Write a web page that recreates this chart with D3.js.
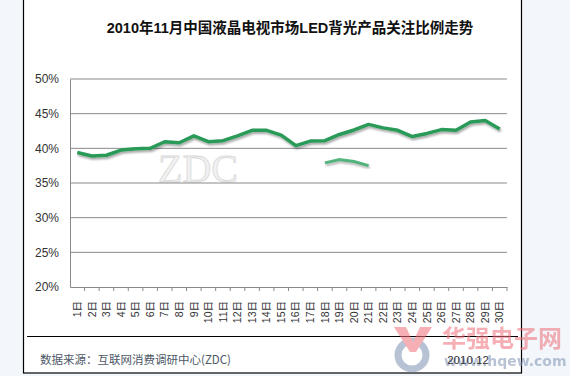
<!DOCTYPE html>
<html>
<head>
<meta charset="utf-8">
<script src="https://cdn.jsdelivr.net/npm/d3@7"></script>
<style>
  html, body { margin: 0; padding: 0; background: #f3f7fc; }
  svg { display: block; }
</style>
</head>
<body>
<div id="chart"></div>
<script>
// daily share of LED backlight attention, Nov 2010 (%)
var days = ["1日","2日","3日","4日","5日","6日","7日","8日","9日","10日",
  "11日","12日","13日","14日","15日","16日","17日","18日","19日","20日",
  "21日","22日","23日","24日","25日","26日","27日","28日","29日","30日"];
var ledShare = [39.4, 38.9, 39.0, 39.75, 39.95, 40.0, 40.95, 40.8, 41.8, 40.95,
  41.1, 41.8, 42.6, 42.6, 41.9, 40.4, 41.05, 41.1, 42.0, 42.65,
  43.45, 42.95, 42.6, 41.7, 42.15, 42.7, 42.6, 43.8, 44.0, 42.8];
// faint leftover segment visible under the main line
var ghostDays = ["18日","19日","20日","21日"];
var ghostShare = [37.9, 38.4, 38.1, 37.5];
var yTicks = [20, 25, 30, 35, 40, 45, 50];

var title = "2010年11月中国液晶电视市场LED背光产品关注比例走势";
var source = "数据来源：互联网消费调研中心(ZDC)";
var dateNote = "2010.12";

var W = 570, H = 376;
var margin = { top: 79, right: 63, bottom: 89, left: 70 };
var width = W - margin.left - margin.right,
  height = H - margin.top - margin.bottom;

var svg = d3.select("#chart").append("svg")
  .attr("width", W).attr("height", H);

var defs = svg.append("defs");
var f = defs.append("filter").attr("id", "shadow")
  .attr("x", "-5%").attr("y", "-20%").attr("width", "110%").attr("height", "160%");
f.append("feGaussianBlur").attr("in", "SourceAlpha").attr("stdDeviation", 1.2).attr("result", "b");
f.append("feOffset").attr("in", "b").attr("dx", 1).attr("dy", 2).attr("result", "o");
f.append("feComponentTransfer").attr("in", "o").attr("result", "s")
  .append("feFuncA").attr("type", "linear").attr("slope", 0.35);
var fm = f.append("feMerge");
fm.append("feMergeNode").attr("in", "s");
fm.append("feMergeNode").attr("in", "SourceGraphic");

// white card with black frame
svg.append("rect")
  .attr("x", 23.5).attr("y", -2).attr("width", 498).attr("height", 375)
  .attr("fill", "#fff").attr("stroke", "#000").attr("stroke-width", 1.2);

svg.append("text")
  .attr("x", 290).attr("y", 33)
  .attr("text-anchor", "middle")
  .attr("font-family", "Liberation Sans, Noto Sans CJK SC, sans-serif")
  .attr("font-size", 14.5).attr("font-weight", "bold")
  .attr("fill", "#111")
  .text(title);

var g = svg.append("g")
  .attr("transform", "translate(" + margin.left + "," + margin.top + ")");

var x = d3.scaleBand().domain(days).range([0, width]);
var y = d3.scaleLinear().domain([20, 50]).range([height, 0]);

// watermark
g.append("text")
  .attr("x", 88).attr("y", 103)
  .attr("font-family", "Liberation Serif, DejaVu Serif, serif")
  .attr("font-size", 40)
  .attr("fill", "#f1f1f1").attr("stroke", "#d9d9d9").attr("stroke-width", 0.8)
  .text("ZDC");

// gridlines
g.append("g")
  .selectAll("line")
  .data(yTicks.filter(function (d) { return d > 20; }))
  .enter().append("line")
  .attr("x1", 0).attr("x2", width)
  .attr("y1", function (d) { return y(d); })
  .attr("y2", function (d) { return y(d); })
  .attr("stroke", "#8a8a8a").attr("stroke-width", 1);

// y axis
var yAxis = g.append("g")
  .call(d3.axisLeft(y).tickValues(yTicks).tickSize(0).tickPadding(11)
    .tickFormat(function (d) { return d + "%"; }));
yAxis.select(".domain").attr("stroke", "#8a8a8a");
yAxis.selectAll("text")
  .attr("font-family", "Liberation Sans, Arial, sans-serif")
  .attr("font-size", 12).attr("fill", "#333");

// x axis
var xAxis = g.append("g")
  .attr("transform", "translate(0," + height + ")")
  .call(d3.axisBottom(x).tickSize(0));
xAxis.select(".domain").attr("stroke", "#8a8a8a");
xAxis.selectAll(".tick line").remove();
xAxis.selectAll("text")
  .attr("font-family", "Liberation Sans, Noto Sans CJK SC, sans-serif")
  .attr("font-size", 10.5).attr("fill", "#333")
  .attr("text-anchor", "end")
  .attr("dy", "0.35em")
  .attr("transform", "translate(0,14) rotate(-90)")
  .attr("x", 0).attr("y", 0);
// boundary ticks between days
g.append("g")
  .selectAll("line")
  .data(days)
  .enter().append("line")
  .attr("x1", function (d) { return x(d) + x.bandwidth(); })
  .attr("x2", function (d) { return x(d) + x.bandwidth(); })
  .attr("y1", height).attr("y2", height + 4)
  .attr("stroke", "#8a8a8a");

var line = d3.line()
  .x(function (d) { return x(d.day) + x.bandwidth() / 2; })
  .y(function (d) { return y(d.v); });

g.append("path")
  .datum(ghostDays.map(function (d, i) { return { day: d, v: ghostShare[i] }; }))
  .attr("d", line)
  .attr("fill", "none")
  .attr("stroke", "#3aa868").attr("stroke-width", 3).attr("stroke-opacity", 0.85)
  .attr("filter", "url(#shadow)");

g.append("path")
  .datum(days.map(function (d, i) { return { day: d, v: ledShare[i] }; }))
  .attr("d", line)
  .attr("fill", "none")
  .attr("stroke", "#2a9a58").attr("stroke-width", 3.5)
  .attr("stroke-linejoin", "round")
  .attr("filter", "url(#shadow)");

// footer
svg.append("line")
  .attr("x1", 27).attr("x2", 518).attr("y1", 336.5).attr("y2", 336.5)
  .attr("stroke", "#000").attr("stroke-width", 1.2);

// site watermark, bottom right
var wm = svg.append("g").attr("opacity", 0.55);
wm.append("circle").attr("cx", 412).attr("cy", 355).attr("r", 14)
  .attr("fill", "none").attr("stroke", "#7d93b3").attr("stroke-width", 7);
wm.append("path")
  .attr("d", "M394,327 L406,327 L413,342 L420,327 L432,327 L416,352 L410,352 Z")
  .attr("fill", "#ef6f78");
wm.append("text")
  .attr("x", 442).attr("y", 347)
  .attr("font-family", "Noto Sans CJK SC, sans-serif")
  .attr("font-size", 24).attr("font-weight", "bold")
  .attr("fill", "#ef6f78")
  .text("华强电子网");
wm.append("text")
  .attr("x", 444).attr("y", 366)
  .attr("font-family", "DejaVu Sans, sans-serif")
  .attr("font-size", 14).attr("font-weight", "bold")
  .attr("fill", "#7d93b3")
  .text("www.hqew.com");

svg.append("text")
  .attr("x", 40).attr("y", 364)
  .attr("font-family", "Noto Sans CJK SC, sans-serif")
  .attr("font-size", 11.5).attr("fill", "#4d5866")
  .text(source);

svg.append("text")
  .attr("x", 468).attr("y", 364)
  .attr("text-anchor", "middle")
  .attr("font-family", "Liberation Sans, Arial, sans-serif")
  .attr("font-size", 11.5).attr("fill", "#333")
  .text(dateNote);
</script>
</body>
</html>
